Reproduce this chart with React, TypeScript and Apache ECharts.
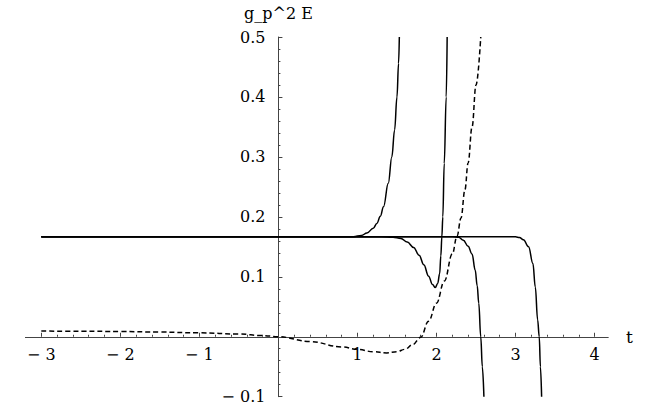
import React, { useEffect, useRef } from "react";
import * as echarts from "echarts";

// t values and g_p^2 E values
const curveA: [number, number][] = [
  [-3, 0.1667], [0.8, 0.1667], [0.95, 0.1668], [1.05, 0.169], [1.12, 0.173], [1.2, 0.181],
  [1.245, 0.189], [1.29, 0.201], [1.33, 0.217], [1.39, 0.256], [1.435, 0.3], [1.47, 0.345],
  [1.5, 0.4], [1.52, 0.456], [1.53, 0.5],
];
const curveB: [number, number][] = [
  [-3, 0.1667], [1.3, 0.1666], [1.45, 0.166], [1.55, 0.164], [1.63, 0.158], [1.71, 0.149],
  [1.78, 0.136], [1.84, 0.12], [1.9, 0.101], [1.95, 0.087], [1.985, 0.082], [2.015, 0.089],
  [2.04, 0.105], [2.055, 0.135], [2.068, 0.167], [2.08, 0.2], [2.098, 0.289], [2.123, 0.4],
  [2.135, 0.5],
];
const curveC: [number, number][] = [
  [-3, 0.1667], [2.2, 0.1666], [2.28, 0.166], [2.34, 0.161], [2.4, 0.151], [2.45, 0.138],
  [2.49, 0.111], [2.515, 0.085], [2.535, 0.056], [2.56, 0.0], [2.58, -0.05], [2.6, -0.1],
];
const curveD: [number, number][] = [
  [-3, 0.1667], [3.0, 0.1666], [3.05, 0.1655], [3.1, 0.162], [3.165, 0.15], [3.22, 0.122],
  [3.25, 0.083], [3.28, 0.028], [3.3, 0.0], [3.315, -0.05], [3.33, -0.1],
];
const curveDashed: [number, number][] = [
  [-3, 0.0095], [-2.5, 0.0092], [-2, 0.0088], [-1.5, 0.0078], [-1, 0.0065], [-0.5, 0.0045],
  [-0.2, 0.002], [0, 0], [0.4, -0.008], [0.8, -0.017], [1.0, -0.021], [1.2, -0.025],
  [1.37, -0.027], [1.5, -0.025], [1.6, -0.021], [1.7, -0.013], [1.8, -0.001], [1.9, 0.026],
  [2.0, 0.056], [2.1, 0.093], [2.2, 0.138], [2.26, 0.168], [2.31, 0.198], [2.36, 0.245],
  [2.4, 0.29], [2.45, 0.35], [2.5, 0.42], [2.56, 0.5],
];

const xMajorTicks = [-3, -2, -1, 0, 1, 2, 3, 4];
const xLabelValues = [-3, -2, -1, 1, 2, 3, 4];
const xMinorTicks = [
  -2.8, -2.6, -2.4, -2.2, -1.8, -1.6, -1.4, -1.2, -0.8, -0.6, -0.4, -0.2,
  0.2, 0.4, 0.6, 0.8, 1.2, 1.4, 1.6, 1.8, 2.2, 2.4, 2.6, 2.8, 3.2, 3.4, 3.6, 3.8,
];

const X_MIN = -3.2;
const X_MAX = 4.17;
const Y_MIN = -0.1;
const Y_MAX = 0.5;

const FONT = "DejaVu Serif";
const AXIS_COLOR = "#444";

const minus = (s: string) => s.replace("-", "\u2212 ");

export default function App() {
  const ref = useRef<HTMLDivElement>(null);
  useEffect(() => {
    if (!ref.current) return;
    const W = 661;
    const H = 409;
    const gLeft = 25.5;
    const gRight = 53;
    const gTop = 37;
    const gBottom = 12.3;
    const plotW = W - gLeft - gRight;
    const plotH = H - gTop - gBottom;
    // place the axes through the origin (Mathematica style)
    const yAxisOffset = -((0 - X_MIN) / (X_MAX - X_MIN)) * plotW;
    const xAxisOffset = -((0 - Y_MIN) / (Y_MAX - Y_MIN)) * plotH;

    const chart = echarts.init(ref.current, null, { renderer: "svg" });
    const lineSeries = (data: [number, number][], dashed = false) => ({
      type: "line",
      data,
      showSymbol: false,
      symbol: "none",
      smooth: 0.4,
      smoothMonotone: "x",
      clip: true,
      lineStyle: { color: "#000", width: 1.5, type: dashed ? [5, 3] : "solid" },
      xAxisIndex: 0,
      yAxisIndex: 0,
    });
    chart.setOption({
      animation: false,
      backgroundColor: "#fff",
      textStyle: { fontFamily: FONT },
      grid: {
        left: gLeft,
        right: gRight,
        top: gTop,
        bottom: gBottom,
        containLabel: false,
        outerBoundsMode: "none",
      },
      xAxis: [
        {
          type: "value",
          min: X_MIN,
          max: X_MAX,
          position: "bottom",
          offset: xAxisOffset,
          axisLine: { onZero: false, lineStyle: { color: AXIS_COLOR, width: 1 } },
          axisTick: { inside: true, length: 4, customValues: xMajorTicks, lineStyle: { color: AXIS_COLOR } },
          axisLabel: {
            customValues: xLabelValues,
            formatter: (v: number) => minus(String(v)),
            margin: 10,
            color: "#000",
            fontFamily: FONT,
            fontSize: 16,
          },
          splitLine: { show: false },
          name: "t",
          nameLocation: "end",
          nameGap: 18,
          nameTextStyle: { color: "#000", fontFamily: FONT, fontSize: 17, verticalAlign: "middle" },
        },
        {
          type: "value",
          min: X_MIN,
          max: X_MAX,
          position: "bottom",
          offset: xAxisOffset,
          axisLine: { onZero: false, lineStyle: { color: AXIS_COLOR, width: 1 } },
          axisTick: { inside: true, length: 2, customValues: xMinorTicks, lineStyle: { color: AXIS_COLOR } },
          axisLabel: { show: false },
          splitLine: { show: false },
        },
      ],
      yAxis: {
        type: "value",
        min: Y_MIN,
        max: Y_MAX,
        interval: 0.1,
        position: "left",
        offset: yAxisOffset,
        axisLine: { onZero: false, lineStyle: { color: AXIS_COLOR, width: 1 } },
        axisTick: { inside: true, length: 4, lineStyle: { color: AXIS_COLOR } },
        minorTick: { show: true, splitNumber: 5, length: 2, lineStyle: { color: AXIS_COLOR } },
        axisLabel: {
          formatter: (v: number) => (Math.abs(v) < 1e-9 ? "" : minus(v.toFixed(1))),
          margin: 13,
          color: "#000",
          fontFamily: FONT,
          fontSize: 16,
        },
        splitLine: { show: false },
        minorSplitLine: { show: false },
        name: "g_p^2 E",
        nameLocation: "end",
        nameGap: 16,
        nameTextStyle: { color: "#000", fontFamily: FONT, fontSize: 16, align: "center" },
      },
      series: [
        lineSeries(curveA),
        lineSeries(curveB),
        lineSeries(curveC),
        lineSeries(curveD),
        lineSeries(curveDashed, true),
      ],
    });
    return () => chart.dispose();
  }, []);
  return (
    <div
      ref={ref}
      style={{ position: "fixed", left: 0, top: 0, width: 661, height: 409, background: "#fff" }}
    />
  );
}
